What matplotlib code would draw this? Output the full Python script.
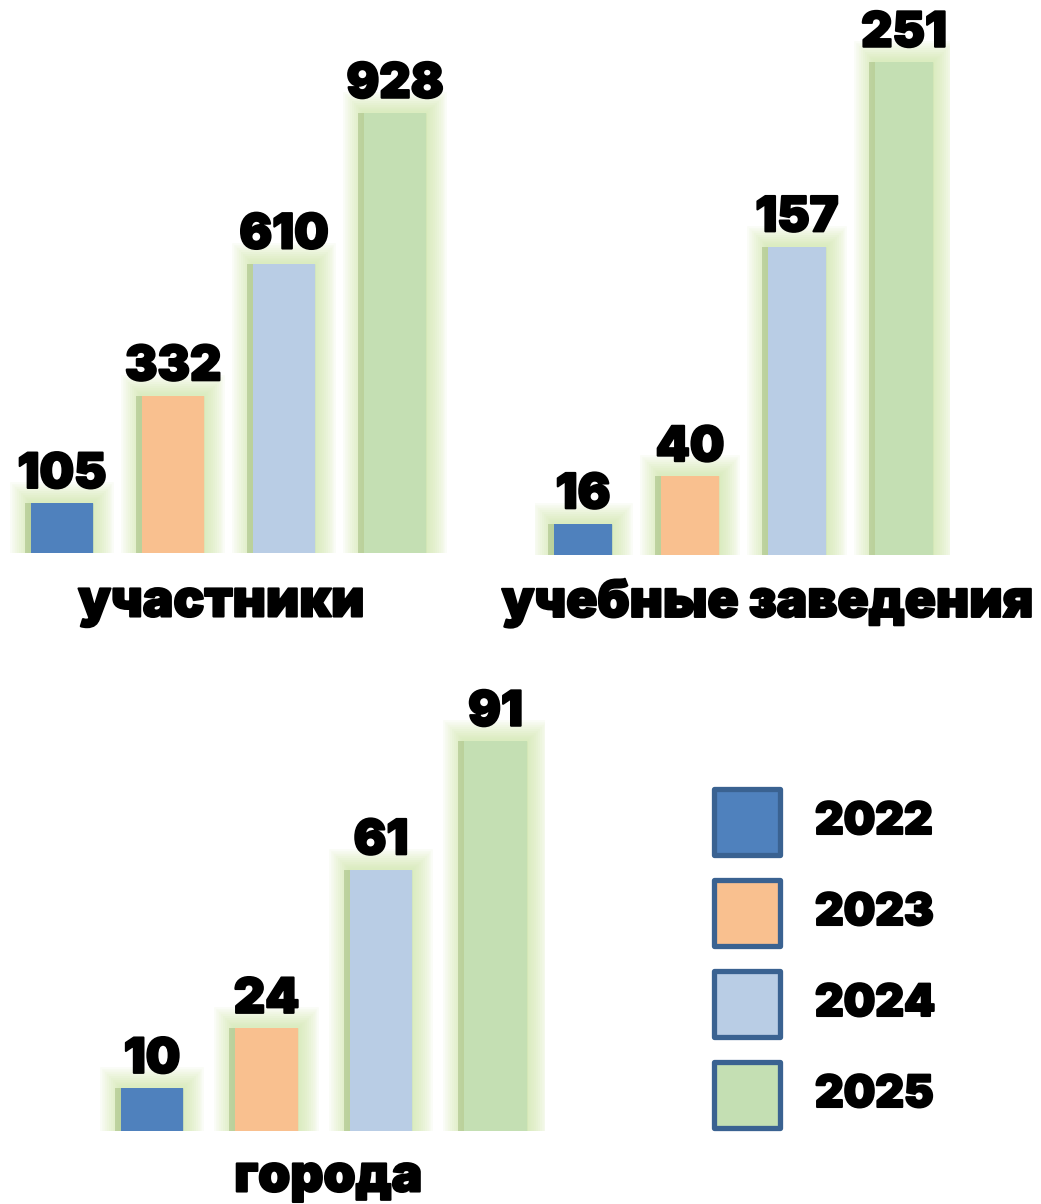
import matplotlib.pyplot as plt
import matplotlib.patheffects as pe

# data
years = ['2022', '2023', '2024', '2025']
colors = ['#4f81bd', '#f9c08f', '#b9cde5', '#c4dfb3']
participants = [105, 332, 610, 928]
schools = [16, 40, 157, 251]
cities = [10, 24, 61, 91]

W, H = 1041, 1204
FONT = ['Inter', 'DejaVu Sans']

fig = plt.figure(figsize=(W / 100, H / 100), dpi=100)

# soft green glow around the bars
glow = [pe.Stroke(linewidth=lw, foreground='#c9e49c', alpha=0.09)
        for lw in range(30, 2, -3)]
glow += [pe.withSimplePatchShadow(offset=(-4, 0), shadow_rgbFace='#9cb878', alpha=0.5),
         pe.Normal()]


def panel(rect, values, ylim_top, xlim, label, label_xy, width):
    l, r, b, t = rect  # pixels
    ax = fig.add_axes([l / W, 1 - b / H, (r - l) / W, (b - t) / H])
    x = range(len(values))
    bars = ax.bar(x, values, width=width, color=colors)
    for bar in bars:
        bar.set_path_effects(glow)
    for xi, v in zip(x, values):
        ax.annotate(str(v), (xi, v), xytext=(0, 11), textcoords='offset points',
                    ha='center', va='baseline', fontsize=35, fontweight='black',
                    family=FONT,
                    path_effects=[pe.withStroke(linewidth=1.5, foreground='black')])
    ax.set_xlim(*xlim)
    ax.set_ylim(0, ylim_top)
    ax.axis('off')
    fig.text(label_xy[0] / W, 1 - label_xy[1] / H, label, ha='center', va='center',
             fontsize=37, fontweight='black', family=FONT,
             path_effects=[pe.withStroke(linewidth=1.5, foreground='black')])
    return ax


panel((0, 450, 553, 0), participants, 553 / (440 / 928),
      (-62 / 111, (450 - 62) / 111), 'участники', (221, 603), 0.56)
panel((535, 950, 555, 0), schools, 555 / (493 / 251),
      ((535 - 583) / 107, (950 - 583) / 107), 'учебные заведения', (767, 603), 0.55)
panel((95, 545, 1131, 600), cities, (1131 - 600) / (390 / 91),
      ((95 - 152) / 114.5, (545 - 152) / 114.5), 'города', (328, 1178), 0.55)

# legend
lax = fig.add_axes([690 / W, 1 - 1140.5 / H, 351 / W, 364 / H])
for i, (yr, c) in enumerate(zip(years, colors)):
    lax.scatter([0.162], [i], s=2200, marker='s', color=c, edgecolor='#3a6291',
                linewidth=3.8, zorder=3)
    lax.text(0.356, i, yr, ha='left', va='center', fontsize=32, fontweight='black',
             family=FONT,
             path_effects=[pe.withStroke(linewidth=1.5, foreground='black')])
lax.set_xlim(0, 1)
lax.set_ylim(3.5, -0.5)
lax.axis('off')

fig.savefig('out.png', dpi=100)
